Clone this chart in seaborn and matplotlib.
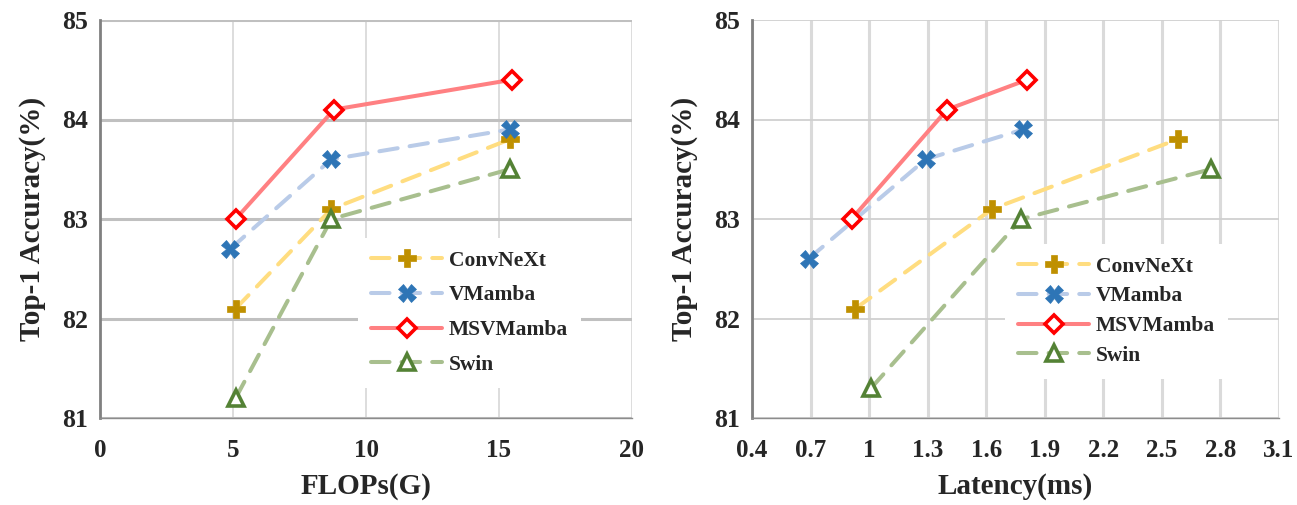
import pandas as pd
import seaborn as sns
import matplotlib.pyplot as plt

# 데이터
models = ['ConvNeXt', 'VMamba', 'MSVMamba', 'Swin']

flops_convnext = [5.1, 8.7, 15.4]
flops_vmamba = [4.9, 8.7, 15.4]
flops_msvmamba = [5.1, 8.8, 15.5]
flops_swin = [5.1, 8.7, 15.4]

lat_convnext = [0.93, 1.63, 2.58]
lat_vmamba = [0.69, 1.29, 1.79]
lat_msvmamba = [0.91, 1.40, 1.81]
lat_swin = [1.01, 1.78, 2.75]

acc_convnext_flops = [82.1, 83.1, 83.8]
acc_vmamba_flops = [82.7, 83.6, 83.9]
acc_msvmamba_flops = [83.0, 84.1, 84.4]
acc_swin_flops = [81.2, 83.0, 83.5]

acc_convnext_lat = [82.1, 83.1, 83.8]
acc_vmamba_lat = [82.6, 83.6, 83.9]
acc_msvmamba_lat = [83.0, 84.1, 84.4]
acc_swin_lat = [81.3, 83.0, 83.5]

flops_ticks = [0, 5, 10, 15, 20]
lat_ticks = [0.4, 0.7, 1.0, 1.3, 1.6, 1.9, 2.2, 2.5, 2.8, 3.1]
lat_ticklabels = ['0.4', '0.7', '1', '1.3', '1.6', '1.9', '2.2', '2.5', '2.8', '3.1']
acc_ticks = [81, 82, 83, 84, 85]


def to_long(xs, ys):
    rows = []
    for m, x, y in zip(models, xs, ys):
        for a, b in zip(x, y):
            rows.append({'Model': m, 'x': a, 'acc': b})
    return pd.DataFrame(rows)


df_flops = to_long([flops_convnext, flops_vmamba, flops_msvmamba, flops_swin],
                   [acc_convnext_flops, acc_vmamba_flops, acc_msvmamba_flops, acc_swin_flops])
df_lat = to_long([lat_convnext, lat_vmamba, lat_msvmamba, lat_swin],
                 [acc_convnext_lat, acc_vmamba_lat, acc_msvmamba_lat, acc_swin_lat])

# 스타일
line_col = {'ConvNeXt': '#FFDD80', 'VMamba': '#B9CBE8', 'MSVMamba': '#FF8082', 'Swin': '#A8BF8E'}
mark_col = {'ConvNeXt': '#BF9000', 'VMamba': '#2E75B6', 'MSVMamba': '#FF0000', 'Swin': '#548235'}
marker = {'ConvNeXt': 'P', 'VMamba': 'X', 'MSVMamba': 'D', 'Swin': '^'}
msize = {'ConvNeXt': 12.5, 'VMamba': 12.5, 'MSVMamba': 9.0, 'Swin': 11.0}
dashed = {'ConvNeXt': True, 'VMamba': True, 'MSVMamba': False, 'Swin': True}

sns.set_style('white')
plt.rcParams['font.family'] = ['Liberation Serif', 'DejaVu Serif']
plt.rcParams['font.weight'] = 'bold'

fig = plt.figure(figsize=(12.97, 5.05), dpi=100)
ax1 = fig.add_axes([100 / 1297, 87 / 505, 532 / 1297, 398 / 505])
ax2 = fig.add_axes([752 / 1297, 87 / 505, 527 / 1297, 398 / 505])


def draw(ax, df, xlim, xticks, xticklabels, xlabel, hgrid, vgrid, leg_pos, leg_space):
    for m in models:
        sub = df[df['Model'] == m]
        face = 'white' if m in ('MSVMamba', 'Swin') else mark_col[m]
        ls = (0, (4.6, 3.0)) if dashed[m] else '-'
        sns.lineplot(data=sub, x='x', y='acc', ax=ax, color=line_col[m], lw=2.9,
                     linestyle=ls, dash_capstyle='round', solid_capstyle='round',
                     marker=marker[m], markersize=msize[m], markerfacecolor=face,
                     markeredgecolor=mark_col[m],
                     markeredgewidth=2.6 if face == 'white' else 0.5,
                     label=m, zorder=3)
    ax.set_xlim(*xlim)
    ax.set_ylim(81, 85)
    ax.set_xticks(xticks)
    ax.set_xticklabels(xticklabels)
    ax.set_yticks(acc_ticks)
    ax.set_axisbelow(True)
    ax.grid(axis='y', color=hgrid[0], lw=hgrid[1])
    ax.grid(axis='x', color=vgrid[0], lw=vgrid[1])
    for s in ['top', 'right']:
        ax.spines[s].set_visible(False)
    ax.spines['left'].set_color('#808080')
    ax.spines['left'].set_linewidth(2.0)
    ax.spines['bottom'].set_color('#8C8C8C')
    ax.spines['bottom'].set_linewidth(1.0)
    ax.tick_params(axis='y', direction='inout', length=11, width=2.0, color='#6E6E6E',
                   labelsize=18.5, pad=3)
    ax.tick_params(axis='x', direction='out', length=5, width=1.0, color='#8C8C8C',
                   labelsize=18, pad=10)
    ax.set_xlabel(xlabel, fontsize=21, fontweight='bold', labelpad=8)
    ax.set_ylabel('Top-1 Accuracy(%)', fontsize=21, fontweight='bold', labelpad=12)
    leg = ax.legend(loc='upper left', bbox_to_anchor=leg_pos, frameon=True,
                    facecolor='white', edgecolor='none', framealpha=1,
                    fancybox=False, fontsize=15.5, handlelength=3.3,
                    labelspacing=leg_space, handletextpad=0.3, borderpad=0.6)
    leg.set_zorder(1)
    for t in leg.get_texts():
        t.set_fontweight('bold')


draw(ax1, df_flops, (0, 20), flops_ticks, [str(t) for t in flops_ticks], 'FLOPs(G)',
     ('#C0C0C0', 2.2), ('#DADADA', 1.3), (0.465, 0.48), 0.68)
draw(ax2, df_lat, (0.4, 3.1), lat_ticks, lat_ticklabels, 'Latency(ms)',
     ('#D0D0D0', 1.3), ('#DADADA', 2.2), (0.46, 0.465), 0.45)

plt.savefig('out.png', dpi=100)
